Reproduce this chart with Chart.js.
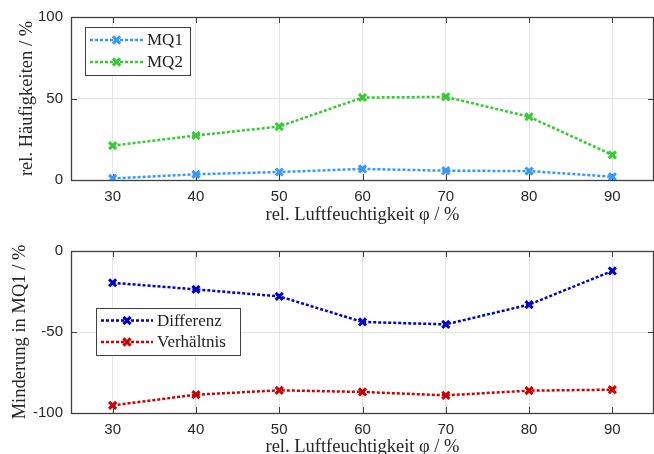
<!DOCTYPE html>
<html>
<head>
<meta charset="utf-8">
<script src="https://cdn.jsdelivr.net/npm/chart.js@4/dist/chart.umd.min.js"></script>
<style>
  html, body { margin: 0; padding: 0; background: #fff; overflow: hidden; }
  #wrap { position: relative; width: 654px; height: 454px; overflow: hidden; }
  canvas { position: absolute; left: 0; }
</style>
</head>
<body>
<div id="wrap">
  <!-- canvases a bit wider than the page: chart.js keeps room right of the axis, that part is cut off -->
  <canvas id="top" width="662" height="227" style="top:0"></canvas>
  <canvas id="bottom" width="662" height="235" style="top:227px"></canvas>
</div>
<script>
// relative humidity (x axis)
const humidity = [30, 40, 50, 60, 70, 80, 90];
const xTicks = [30, 40, 50, 60, 70, 80, 90];

// top chart: relative frequencies in %
const mq1 = [1.0, 3.5, 4.9, 6.8, 5.7, 5.5, 2.0];
const mq2 = [21.1, 27.3, 32.8, 50.6, 51.0, 38.8, 15.4];

// bottom chart: reduction in MQ1 in %
const differenz = [-19.6, -23.7, -28.0, -43.8, -45.3, -33.1, -12.3];
const verhaeltnis = [-95.3, -88.7, -86.0, -87.0, -89.1, -86.2, -85.6];

const tickFont = { family: "'Liberation Sans', Arial, sans-serif", size: 15 };
const serif = "'Liberation Serif', 'DejaVu Serif', serif";
const xTitle = "rel. Luftfeuchtigkeit \u03c6 / %";

function pts(ys) {
  return humidity.map((x, i) => ({ x: x, y: ys[i] }));
}

function series(label, ys, color) {
  return {
    label: label,
    data: pts(ys),
    borderColor: color,
    backgroundColor: color,
    borderWidth: 2.5,
    borderDash: [3, 2],
    borderCapStyle: "butt",
    pointStyle: "crossRot",
    pointRadius: 5,
    pointBorderWidth: 3,
    pointHoverRadius: 5,
    tension: 0,
    fill: false
  };
}

// box around plot area + inward ticks like matlab
const boxPlugin = {
  id: "box",
  beforeDatasetsDraw(chart) {
    const ctx = chart.ctx, a = chart.chartArea;
    const xs = chart.scales.x, ys = chart.scales.y;
    ctx.save();
    ctx.strokeStyle = "#404040";
    ctx.lineWidth = 1;
    xs.ticks.forEach(t => {
      const px = Math.round(xs.getPixelForValue(t.value)) + 0.5;
      ctx.beginPath();
      ctx.moveTo(px, a.bottom); ctx.lineTo(px, a.bottom - 6);
      ctx.moveTo(px, a.top); ctx.lineTo(px, a.top + 6);
      ctx.stroke();
    });
    ys.ticks.forEach(t => {
      const py = Math.round(ys.getPixelForValue(t.value)) + 0.5;
      ctx.beginPath();
      ctx.moveTo(a.left, py); ctx.lineTo(a.left + 6, py);
      ctx.moveTo(a.right, py); ctx.lineTo(a.right - 6, py);
      ctx.stroke();
    });
    ctx.lineWidth = 1.3;
    ctx.strokeRect(Math.round(a.left) + 0.5, Math.round(a.top) + 0.5,
      Math.round(a.right - a.left) - 1, Math.round(a.bottom - a.top));
    ctx.restore();
  }
};

// legend box drawn inside the plot
const innerLegend = {
  id: "innerLegend",
  afterDatasetsDraw(chart, args, opts) {
    const ctx = chart.ctx;
    const b = opts.box;
    ctx.save();
    ctx.fillStyle = "#fff";
    ctx.fillRect(b[0], b[1], b[2], b[3]);
    ctx.strokeStyle = "#404040";
    ctx.lineWidth = 1;
    ctx.strokeRect(b[0] + 0.5, b[1] + 0.5, b[2], b[3]);
    chart.data.datasets.forEach((ds, i) => {
      const y = opts.rows[i];
      ctx.strokeStyle = ds.borderColor;
      ctx.lineWidth = 2.5;
      ctx.setLineDash([3, 2]);
      ctx.beginPath();
      ctx.moveTo(opts.line[0], y); ctx.lineTo(opts.line[1], y);
      ctx.stroke();
      ctx.setLineDash([]);
      ctx.lineWidth = 3;
      const mx = (opts.line[0] + opts.line[1]) / 2, r = 3.6;
      ctx.beginPath();
      ctx.moveTo(mx - r, y - r); ctx.lineTo(mx + r, y + r);
      ctx.moveTo(mx - r, y + r); ctx.lineTo(mx + r, y - r);
      ctx.stroke();
      ctx.fillStyle = "#222";
      ctx.font = "17px " + serif;
      ctx.textBaseline = "middle";
      ctx.fillText(ds.label, opts.textX, y + 1);
    });
    ctx.restore();
  }
};

function makeChart(id, datasets, yMin, yMax, yStep, yTitle, yTitlePad, padTop, xHeight, titlePadBottom, legendOpts) {
  return new Chart(document.getElementById(id), {
    type: "line",
    data: { datasets: datasets },
    plugins: [boxPlugin, innerLegend],
    options: {
      responsive: false,
      animation: false,
      devicePixelRatio: 1,
      layout: { padding: { top: padTop, right: 0, left: 0, bottom: 0 } },
      plugins: {
        legend: { display: false },
        tooltip: { enabled: false },
        innerLegend: legendOpts
      },
      scales: {
        x: {
          type: "linear",
          min: 25, max: 95,
          afterBuildTicks: s => { s.ticks = xTicks.map(v => ({ value: v })); },
          afterFit: s => { s.height = xHeight; },
          grid: { color: "#e3e3e3", drawTicks: false },
          border: { display: false },
          ticks: { font: tickFont, color: "#262626", padding: 8, maxRotation: 0 },
          title: {
            display: true, text: xTitle, color: "#262626",
            font: { family: serif, size: 18.5 },
            padding: { top: 0, bottom: titlePadBottom }
          }
        },
        y: {
          min: yMin, max: yMax,
          afterFit: s => { s.width = 71; },
          grid: { color: "#e3e3e3", drawTicks: false },
          border: { display: false },
          ticks: { stepSize: yStep, font: tickFont, color: "#262626", padding: 8 },
          title: {
            display: true, text: yTitle, color: "#262626",
            font: { family: serif, size: 18.5 },
            padding: { top: yTitlePad, bottom: 0 }
          }
        }
      }
    }
  });
}

makeChart("top",
  [series("MQ1", mq1, "#3399ff"), series("MQ2", mq2, "#33cc33")],
  0, 100, 50, "rel. H\u00e4ufigkeiten / %", 16, 17, 47, 1,
  { box: [85, 27, 105, 48], rows: [40, 62], line: [90, 143], textX: 147 });

makeChart("bottom",
  [series("Differenz", differenz, "#0000cc"), series("Verh\u00e4ltnis", verhaeltnis, "#cc0000")],
  -100, 0, 50, "Minderung in MQ1 / %", 9, 24, 49, 4,
  { box: [96, 81, 144, 47], rows: [93.5, 115], line: [101, 153], textX: 157 });
</script>
</body>
</html>
